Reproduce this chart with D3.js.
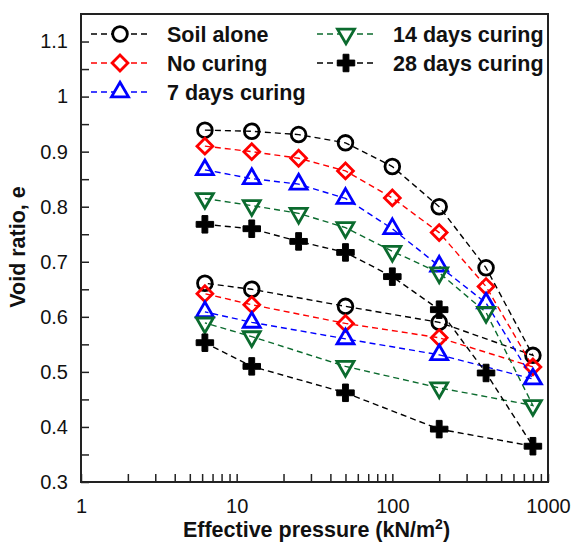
<!DOCTYPE html>
<html>
<head>
<meta charset="utf-8">
<script src="https://cdn.jsdelivr.net/npm/d3@7"></script>
<style>
  body { margin: 0; background: #fff; }
  text { font-family: "Liberation Sans", Arial, sans-serif; }
</style>
</head>
<body>
<svg id="chart" width="574" height="549"></svg>
<script>
// effective pressure, loading then unloading path
const pressures = [6.25, 12.5, 25, 50, 100, 200, 400, 800, 200, 50, 12.5, 6.25];

const soilAlone = [0.939, 0.937, 0.931, 0.916, 0.873, 0.800, 0.689, 0.530, 0.590, 0.619, 0.650, 0.661];
const noCuring = [0.910, 0.900, 0.888, 0.865, 0.816, 0.753, 0.655, 0.509, 0.562, 0.588, 0.622, 0.642];
const days7 = [0.867, 0.851, 0.841, 0.815, 0.760, 0.692, 0.625, 0.487, 0.531, 0.560, 0.590, 0.609];
const days14 = [0.815, 0.802, 0.788, 0.762, 0.719, 0.680, 0.608, 0.439, 0.471, 0.510, 0.564, 0.589];
const days28 = [0.768, 0.760, 0.737, 0.717, 0.673, 0.613, 0.498, 0.365, 0.396, 0.462, 0.510, 0.553];

const seriesNames = ["Soil alone", "No curing", "7 days curing", "14 days curing", "28 days curing"];
const seriesValues = [soilAlone, noCuring, days7, days14, days28];

const xTickLabels = [1, 10, 100, 1000];
const yTickLabels = [0.3, 0.4, 0.5, 0.6, 0.7, 0.8, 0.9, 1, 1.1];

const styles = [
  { color: "#000", symbol: d3.symbolCircle, size: 170, rot: 0, fill: "none" },
  { color: "#ff0000", symbol: d3.symbolSquare, size: 125, rot: 45, fill: "none" },
  { color: "#0000ff", symbol: d3.symbolTriangle, size: 125, rot: 0, fill: "none" },
  { color: "#0b6b2e", symbol: d3.symbolTriangle, size: 125, rot: 180, fill: "none" },
  { color: "#000", symbol: d3.symbolCross, size: 170, rot: 0, fill: "#000" }
];

const margin = { top: 14, left: 81 };
const width = 467, height = 468;

const svg = d3.select("#chart");
const g = svg.append("g").attr("transform", `translate(${margin.left},${margin.top})`);

const x = d3.scaleLog().domain([1, 1000]).range([0, width]);
const y = d3.scaleLinear().domain([0.3, 1.15]).range([height, 0]);

// minor + major ticks on x
const xTicks = [];
for (let dec = 1; dec < 1000; dec *= 10) {
  for (let k = 1; k < 10; k++) xTicks.push(dec * k);
}
xTicks.push(1000);

const xAxis = d3.axisBottom(x)
  .tickValues(xTicks)
  .tickSize(-8)
  .tickPadding(17)
  .tickFormat(d => xTickLabels.includes(d) ? d : "");

const yTicks = d3.range(0.3, 1.151, 0.05).map(d => +d.toFixed(2)).filter(d => d < 1.15);
const yAxis = d3.axisLeft(y)
  .tickValues(yTicks)
  .tickSize(-8)
  .tickPadding(13)
  .tickFormat(d => yTickLabels.some(v => Math.abs(v - d) < 1e-6) ? String(+d.toFixed(2)) : "");

const gx = g.append("g").attr("transform", `translate(0,${height})`).call(xAxis);
const gy = g.append("g").call(yAxis);

[gx, gy].forEach(a => {
  a.select(".domain").remove();
  a.selectAll(".tick line").attr("stroke", "#222").attr("stroke-width", 1.5);
  a.selectAll(".tick text").attr("font-size", 20).attr("fill", "#111")
    .attr("font-family", "'Liberation Sans', Arial, sans-serif");
});

// frame
g.append("rect")
  .attr("x", 0).attr("y", 0)
  .attr("width", width).attr("height", height)
  .attr("fill", "none")
  .attr("stroke", "#222")
  .attr("stroke-width", 2);

const line = d3.line()
  .x((d, i) => x(pressures[i]))
  .y(d => y(d));

const series = g.selectAll(".series")
  .data(seriesValues)
  .enter()
  .append("g")
  .attr("class", "series");

series.append("path")
  .attr("d", d => line(d))
  .attr("fill", "none")
  .attr("stroke", (d, i) => styles[i].color)
  .attr("stroke-width", 1.4)
  .attr("stroke-dasharray", "6,4");

series.each(function (vals, si) {
  const st = styles[si];
  d3.select(this).selectAll("path.pt")
    .data(vals)
    .enter()
    .append("path")
    .attr("class", "pt")
    .attr("d", d3.symbol().type(st.symbol).size(st.size))
    .attr("transform", (d, i) => `translate(${x(pressures[i])},${y(d)}) rotate(${st.rot})`)
    .attr("fill", st.fill === "none" ? "#fff" : st.fill)
    .attr("fill-opacity", st.fill === "none" ? 0 : 1)
    .attr("stroke", st.color)
    .attr("stroke-width", st.fill === "none" ? 2.8 : 1);
});

// legend
const legendPos = [
  { x: 91, y: 34 }, { x: 91, y: 63 }, { x: 91, y: 92 },
  { x: 317, y: 34 }, { x: 317, y: 63 }
];

const legend = svg.selectAll(".legend")
  .data(seriesNames)
  .enter()
  .append("g")
  .attr("class", "legend")
  .attr("transform", (d, i) => `translate(${legendPos[i].x},${legendPos[i].y})`);

legend.append("line")
  .attr("x1", 0).attr("x2", 56)
  .attr("y1", 0).attr("y2", 0)
  .attr("stroke", (d, i) => styles[i].color)
  .attr("stroke-width", 1.4)
  .attr("stroke-dasharray", "6,4");

legend.append("path")
  .attr("d", (d, i) => d3.symbol().type(styles[i].symbol).size(styles[i].size)())
  .attr("transform", (d, i) => `translate(29,0) rotate(${styles[i].rot})`)
  .attr("fill", (d, i) => styles[i].fill === "none" ? "#fff" : styles[i].fill)
  .attr("stroke", (d, i) => styles[i].color)
  .attr("stroke-width", (d, i) => styles[i].fill === "none" ? 2.8 : 1);

legend.append("text")
  .attr("x", 76)
  .attr("y", 0)
  .attr("dy", "0.36em")
  .attr("font-size", 21.5)
  .attr("font-weight", "bold")
  .attr("fill", "#111")
  .text(d => d);

// axis titles
const xTitle = svg.append("text")
  .attr("x", margin.left + width / 2 + 2)
  .attr("y", 537)
  .attr("text-anchor", "middle")
  .attr("font-size", 21.5)
  .attr("font-weight", "bold")
  .attr("fill", "#111");
xTitle.append("tspan").text("Effective pressure (kN/m");
xTitle.append("tspan").attr("font-size", 14).attr("dy", -8).text("2");
xTitle.append("tspan").attr("dy", 8).text(")");

svg.append("text")
  .attr("transform", "translate(25,247) rotate(-90)")
  .attr("text-anchor", "middle")
  .attr("font-size", 21.5)
  .attr("font-weight", "bold")
  .attr("fill", "#111")
  .text("Void ratio, e");
</script>
</body>
</html>
